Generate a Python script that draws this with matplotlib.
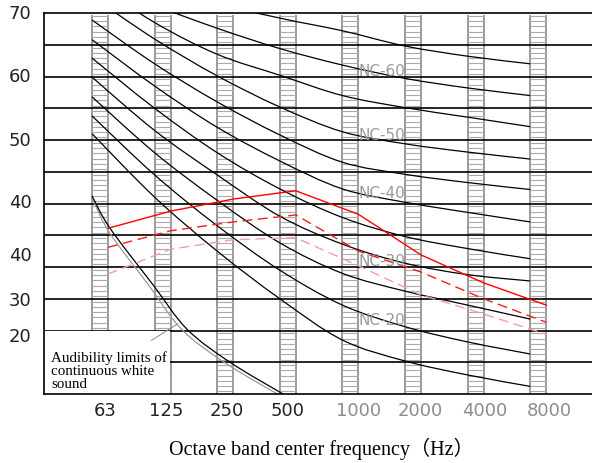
import numpy as np
import matplotlib
matplotlib.use("Agg")
import matplotlib.pyplot as plt
from matplotlib.path import Path
from matplotlib.patches import PathPatch, Rectangle

# ----------------------------------
# 1. Data (dB per octave band)
# ----------------------------------
bands = ["63", "125", "250", "500", "1000", "2000", "4000", "8000"]

nc65 = [80.0, 75.5, 71.6, 69.2, 67.2, 64.8, 63.2, 62.0]
nc60 = [76.0, 71.3, 67.6, 64.4, 61.8, 59.7, 58.2, 57.0]
nc55 = [75.0, 68.5, 63.5, 60.2, 57.0, 55.1, 53.6, 52.1]
nc50 = [72.6, 65.9, 60.1, 55.2, 51.3, 49.4, 48.1, 47.0]
nc45 = [68.9, 62.0, 56.0, 50.8, 46.5, 44.6, 43.3, 42.2]
nc40 = [65.8, 58.5, 52.0, 46.7, 42.3, 40.2, 38.6, 37.1]
nc35 = [62.9, 55.0, 48.0, 42.3, 37.8, 34.8, 32.9, 31.3]
nc30 = [59.9, 51.5, 44.5, 38.0, 33.6, 30.6, 28.8, 27.8]
nc25 = [56.8, 48.0, 40.5, 33.8, 29.0, 26.2, 24.0, 21.8]
nc20 = [53.8, 44.5, 36.5, 29.5, 24.0, 20.6, 18.2, 16.3]
nc15 = [51.0, 41.0, 32.5, 25.0, 18.5, 15.2, 13.0, 11.2]

red_solid = [36.1, 38.8, 40.7, 42.0, 38.3, 31.9, 27.5, 24.0]
red_dashed = [33.1, 35.7, 37.1, 38.2, 32.5, 29.2, 25.0, 21.3]
pink_dashed = [28.9, 32.8, 34.3, 34.6, 30.2, 25.6, 22.6, 19.4]

# audibility limit of continuous white noise (band position, dB)
aud_pos = [0.0, 0.288, 0.974, 1.518, 2.204, 3.051]
aud_db = [41.2, 36.1, 27.2, 20.2, 15.0, 10.0]
aud2_pos = [0.02, 0.28, 0.90, 1.43, 2.11, 2.96]
aud2_db = [40.5, 35.4, 27.2, 20.2, 15.0, 10.0]

ytick_labels = ["70", "60", "50", "40", "40", "30", "20"]
ytick_pos = [70, 60, 50, 40.2, 31.9, 24.8, 19.1]

nc_labels = ["NC-60", "NC-50", "NC-40", "NC-30", "NC-20"]
nc_label_db = [61.0, 50.9, 41.7, 31.0, 21.7]


def smooth_path(x, y):
    pts = np.column_stack([x, y])
    verts = [pts[0]]
    codes = [Path.MOVETO]
    n = len(pts)
    for i in range(n - 1):
        p0 = pts[i - 1] if i > 0 else pts[i]
        p1, p2 = pts[i], pts[i + 1]
        p3 = pts[i + 2] if i + 2 < n else pts[i + 1]
        verts += [p1 + (p2 - p0) / 6, p2 - (p3 - p1) / 6, p2]
        codes += [Path.CURVE4] * 3
    return Path(verts, codes)


# ----------------------------------
# 2. Figure
# ----------------------------------
fig = plt.figure(figsize=(5.92, 4.64), dpi=100)
ax = fig.add_axes([44 / 592, 69 / 464, 548 / 592, 381 / 464])
ax.set_xlim(-0.767, 7.987)
ax.set_ylim(10, 70)
ax.set_xticks([])
ax.set_yticks([])
ax.spines["right"].set_visible(False)
for s in ["left", "top", "bottom"]:
    ax.spines[s].set_linewidth(1.2)
    ax.spines[s].set_zorder(5)

x = np.arange(len(bands))
rail_w = 0.256

# ladders
rungs = np.arange(10.4, 69.6, 5 / 6)
for xi in x:
    ax.vlines([xi, xi + rail_w], 10, 69.7, color="#9a9a9a", lw=1.4, zorder=1)
    ax.hlines(rungs, xi, xi + rail_w, color="#aaaaaa", lw=0.8, zorder=1)

# horizontal grid
ax.hlines(np.arange(15, 70, 5), -0.767, 7.987, color="black", lw=1.2, zorder=2)

# white panel behind the note
ax.add_patch(Rectangle((-0.767, 10), 0.767 + 1.246, 9.85, facecolor="white",
                       edgecolor="none", zorder=2.5))

# NC curves
for curve in [nc65, nc60, nc55, nc50, nc45, nc40, nc35, nc30, nc25, nc20, nc15]:
    ax.add_patch(PathPatch(smooth_path(x, curve), fill=False, edgecolor="black",
                           lw=0.9, zorder=3))

# audibility curves
ax.add_patch(PathPatch(smooth_path(aud2_pos, aud2_db), fill=False,
                       edgecolor="#9a9a9a", lw=0.9, zorder=3))
ax.add_patch(PathPatch(smooth_path(aud_pos, aud_db), fill=False,
                       edgecolor="black", lw=0.9, zorder=3))

# red spectra
xr = x + rail_w
ax.plot(xr, red_solid, color="#ff0000", lw=1.0, zorder=4)
ax.plot(xr, red_dashed, color="#ff1a1a", lw=1.0, ls=(0, (7, 4)), zorder=4)
ax.plot(xr, pink_dashed, color="#f2a0a0", lw=1.0, ls=(0, (7, 4)), zorder=4)

# NC labels
for lab, yv in zip(nc_labels, nc_label_db):
    ax.text(4.25, yv, lab, color="#9a9a9a", fontsize=11, ha="left",
            va="center", zorder=4)

# note
ax.annotate("", xy=(1.41, 21.3), xytext=(0.91, 18.2),
            arrowprops=dict(arrowstyle="-", color="#888888", lw=0.7), zorder=4)
ax.text(-0.655, 13.7, "Audibility limits of\ncontinuous white\nsound",
        family="Liberation Serif", fontsize=10.8, linespacing=1.0,
        ha="left", va="center", zorder=4)

# tick labels
label_x = x + np.array([0.08, 0.06, 0.02, 0.0, 0.12, 0.11, 0.14, 0.17]) + 0.13
for i, (lx, lab) in enumerate(zip(label_x, bands)):
    ax.text(lx, 7.5, lab, fontsize=13, ha="center", va="center",
            color="#222222" if i < 4 else "#8c8c8c", clip_on=False)
for lab, yv in zip(ytick_labels, ytick_pos):
    ax.text(-1.15, yv, lab, fontsize=13, ha="center", va="center",
            color="#222222", clip_on=False)

ax.text(3.66, 1.5, "Octave band center frequency（Hz）",
        family=["Liberation Serif", "Noto Sans CJK SC"], fontsize=14.5,
        ha="center", va="center", clip_on=False)

fig.savefig("out.png", dpi=100)
